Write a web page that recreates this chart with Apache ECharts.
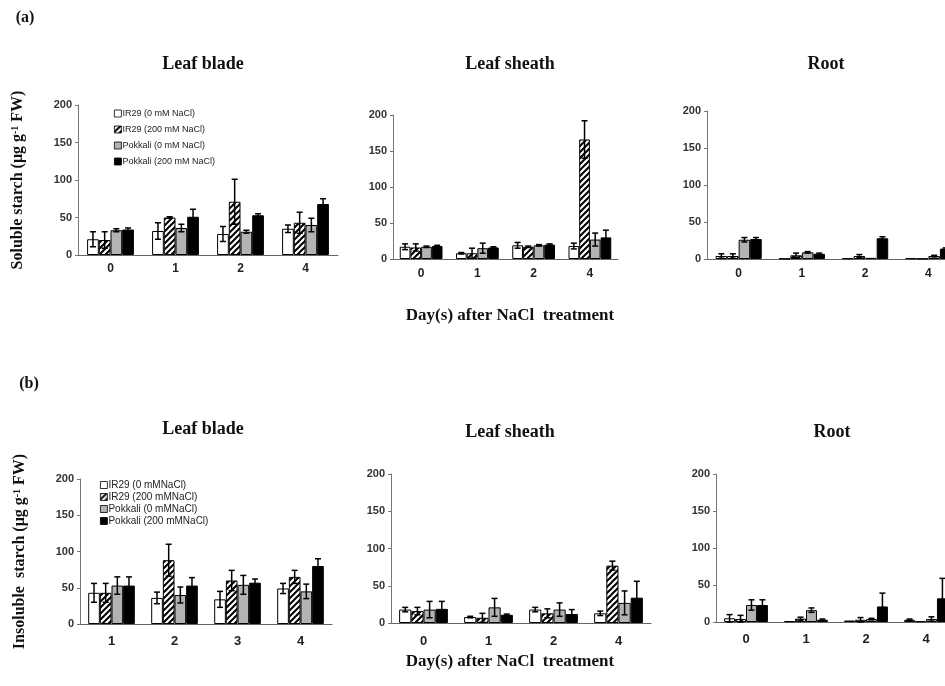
<!DOCTYPE html>
<html><head><meta charset="utf-8">
<script src="https://cdn.jsdelivr.net/npm/echarts@6/dist/echarts.min.js"></script>
<style>html,body{margin:0;padding:0;background:#fff}#c{width:945px;height:686px}</style>
</head><body><div id="c"></div>
<script>
// ---------- data ----------
const daysA = ['0', '1', '2', '4'];
const daysInsolBlade = ['1', '2', '3', '4'];
const namesA = ['IR29 (0 mM NaCl)', 'IR29 (200 mM NaCl)', 'Pokkali (0 mM NaCl)', 'Pokkali (200 mM NaCl)'];
const namesB = ['IR29 (0 mMNaCl)', 'IR29 (200 mMNaCl)', 'Pokkali (0 mMNaCl)', 'Pokkali (200 mMNaCl)'];
const yTicks = [0, 50, 100, 150, 200];

// soluble starch, rows = IR29 0, IR29 200, Pokkali 0, Pokkali 200
const solBladeMean = [[21, 32, 28, 35], [20, 50, 71, 43], [33, 36, 31, 40], [34, 51, 53, 68]];
const solBladeErr  = [[10, 11, 10, 5], [11, 1, 30, 14], [2, 5, 2, 9], [2, 10, 2, 7]];
const solSheathMean = [[17, 8, 19, 18], [16, 8, 17, 166], [17, 15, 19, 27], [18, 16, 20, 30]];
const solSheathErr  = [[4, 1, 4, 4], [5, 7, 1, 26], [1, 7, 1, 9], [1, 1, 1, 10]];
const solRootMean = [[4, 0.5, 1, 1], [4, 5, 4, 0.5], [26, 9, 1.5, 4], [27, 7, 28, 14]];
const solRootErr  = [[3, 0, 0, 0], [3, 3, 2, 0], [3, 1, 0, 1], [2, 1, 2, 1]];

// insoluble starch
const insBladeMean = [[43, 36, 34, 49], [43, 88, 60, 65], [53, 40, 54, 45], [53, 53, 57, 80]];
const insBladeErr  = [[13, 8, 11, 7], [13, 22, 14, 9], [12, 11, 13, 10], [12, 11, 5, 10]];
const insSheathMean = [[18, 8, 18, 13], [16, 7, 13, 77], [18, 21, 18, 27], [19, 11, 12, 34]];
const insSheathErr  = [[3, 1, 3, 3], [5, 6, 6, 6], [11, 12, 9, 16], [10, 1, 6, 22]];
const insRootMean = [[5, 1, 2, 3], [4, 4.5, 3, 1], [23, 16, 4, 4], [23, 3, 21, 32]];
const insRootErr  = [[5, 0, 0, 1], [5, 2, 3, 0], [7, 3, 1, 3], [7, 1, 18, 27]];

// ---------- styles ----------
function makeHatch() {
  const c = document.createElement('canvas');
  c.width = 6; c.height = 6;
  const ctx = c.getContext('2d');
  ctx.fillStyle = '#fff'; ctx.fillRect(0, 0, 6, 6);
  ctx.strokeStyle = '#000'; ctx.lineWidth = 2;
  ctx.beginPath();
  ctx.moveTo(-1, 7); ctx.lineTo(7, -1);
  ctx.moveTo(-4, 4); ctx.lineTo(4, -4);
  ctx.moveTo(2, 10); ctx.lineTo(10, 2);
  ctx.stroke();
  return c;
}
const hatch = makeHatch();
const fills = ['#ffffff', { image: hatch, repeat: 'repeat' }, '#b3b3b3', '#000000'];

const serif = '"Liberation Serif", "Times New Roman", serif';
const sans = '"Liberation Sans", Arial, sans-serif';

const panels = [
  { cats: daysA, mean: solBladeMean, err: solBladeErr, names: namesA, gap: 0.28,
    grid: { left: 78, top: 105, width: 260, height: 150 }, xFont: 12, xMargin: 8,
    yName: '{t|Soluble starch (μg g}{s|-1}{t| FW)}' },
  { cats: daysA, mean: solSheathMean, err: solSheathErr, names: namesA, gap: 0.24,
    grid: { left: 393, top: 115, width: 225, height: 144 }, xFont: 12, xMargin: 9 },
  { cats: daysA, mean: solRootMean, err: solRootErr, names: namesA, gap: 0.27,
    grid: { left: 707, top: 111, width: 253, height: 148 }, xFont: 12, xMargin: 9 },
  { cats: daysInsolBlade, mean: insBladeMean, err: insBladeErr, names: namesB, gap: 0.26,
    grid: { left: 80, top: 479, width: 252, height: 145 }, xFont: 13, xMargin: 11,
    yName: '{t|Insoluble  starch (μg g}{s|-1}{t| FW)}' },
  { cats: daysA, mean: insSheathMean, err: insSheathErr, names: namesB, gap: 0.25,
    grid: { left: 391, top: 474, width: 260, height: 149 }, xFont: 13, xMargin: 12 },
  { cats: daysA, mean: insRootMean, err: insRootErr, names: namesB, gap: 0.27,
    grid: { left: 716, top: 474, width: 240, height: 148 }, xFont: 13, xMargin: 11 }
];

function makeErrRender(s, gap) {
  return function (params, api) {
    const ci = api.value(0), m = api.value(1), e = api.value(2);
    if (!(e > 0)) return null;
    const band = api.size([1, 0])[0];
    const bw = band * (1 - gap) / 4;
    const x = api.coord([ci, m])[0] + (s - 1.5) * bw;
    const yt = api.coord([ci, m + e])[1];
    const yb = api.coord([ci, Math.max(m - e, 0)])[1];
    const cap = 3;
    const st = { stroke: '#000', lineWidth: 1.5 };
    return { type: 'group', children: [
      { type: 'line', shape: { x1: x, y1: yt, x2: x, y2: yb }, style: st },
      { type: 'line', shape: { x1: x - cap, y1: yt, x2: x + cap, y2: yt }, style: st },
      { type: 'line', shape: { x1: x - cap, y1: yb, x2: x + cap, y2: yb }, style: st }
    ] };
  };
}

const grids = [], xAxes = [], yAxes = [], series = [];
panels.forEach((p, gi) => {
  grids.push(Object.assign({ containLabel: false, outerBoundsMode: 'none' }, p.grid));
  xAxes.push({
    type: 'category', gridIndex: gi, data: p.cats,
    axisLine: { lineStyle: { color: '#666', width: 1 } },
    axisTick: { show: false },
    axisLabel: { color: '#222', fontFamily: sans, fontWeight: 'bold', fontSize: p.xFont, margin: p.xMargin }
  });
  const ya = {
    type: 'value', gridIndex: gi, min: yTicks[0], max: yTicks[yTicks.length - 1], interval: 50,
    axisLine: { show: true, lineStyle: { color: '#777', width: 1 } },
    axisTick: { show: true, length: 3, lineStyle: { color: '#777' } },
    splitLine: { show: false },
    axisLabel: { color: '#333', fontFamily: sans, fontWeight: 'bold', fontSize: 11, margin: 6 }
  };
  if (p.yName) {
    Object.assign(ya, {
      name: p.yName, nameLocation: 'middle', nameRotate: 90, nameGap: 52,
      nameTextStyle: {
        rich: {
          t: { fontFamily: serif, fontWeight: 'bold', fontSize: 16, color: '#111' },
          s: { fontFamily: serif, fontWeight: 'bold', fontSize: 10, color: '#111', verticalAlign: 'top', padding: [0, 0, 6, 0] }
        }
      }
    });
  }
  yAxes.push(ya);
  for (let s = 0; s < 4; s++) {
    series.push({
      type: 'bar', name: p.names[s], xAxisIndex: gi, yAxisIndex: gi,
      data: p.mean[s], barGap: '0%', barCategoryGap: Math.round(p.gap * 100) + '%',
      itemStyle: { color: fills[s], borderColor: '#000', borderWidth: 1 },
      emphasis: { disabled: true }, animation: false
    });
  }
  for (let s = 0; s < 4; s++) {
    series.push({
      type: 'custom', xAxisIndex: gi, yAxisIndex: gi, z: 5,
      renderItem: makeErrRender(s, p.gap),
      encode: { x: 0, y: 1 },
      data: p.mean[s].map((v, i) => [i, v, p.err[s][i]]),
      animation: false, silent: true
    });
  }
});

function txt(x, y, text, size) {
  return { type: 'text', x: x, y: y, style: { text: text, fill: '#111', font: 'bold ' + size + 'px ' + serif, align: 'center', verticalAlign: 'middle' } };
}

const option = {
  backgroundColor: '#fff',
  animation: false,
  grid: grids, xAxis: xAxes, yAxis: yAxes, series: series,
  legend: [
    { data: namesA, orient: 'vertical', left: 114, top: 109, padding: 0, itemWidth: 7, itemHeight: 7, itemGap: 7,
      icon: 'rect', selectedMode: false,
      itemStyle: { borderWidth: 0.8 },
      textStyle: { fontFamily: sans, fontSize: 9, color: '#222', padding: [0, 0, 0, -4] } },
    { data: namesB, orient: 'vertical', left: 100, top: 480, padding: 0, itemWidth: 7, itemHeight: 7, itemGap: 2,
      icon: 'rect', selectedMode: false,
      itemStyle: { borderWidth: 0.8 },
      textStyle: { fontFamily: sans, fontSize: 10, color: '#222', padding: [0, 0, 0, -4] } }
  ],
  graphic: [
    txt(25, 18, '(a)', 16),
    txt(29, 384, '(b)', 16),
    txt(203, 64, 'Leaf blade', 18),
    txt(510, 64, 'Leaf sheath', 18),
    txt(826, 64, 'Root', 18),
    txt(203, 429, 'Leaf blade', 18),
    txt(510, 432, 'Leaf sheath', 18),
    txt(832, 432, 'Root', 18),
    txt(510, 316, 'Day(s) after NaCl  treatment', 17),
    txt(510, 662, 'Day(s) after NaCl  treatment', 17)
  ]
};

const chart = echarts.init(document.getElementById('c'), null, { renderer: 'canvas' });
chart.setOption(option);
</script>
</body></html>
